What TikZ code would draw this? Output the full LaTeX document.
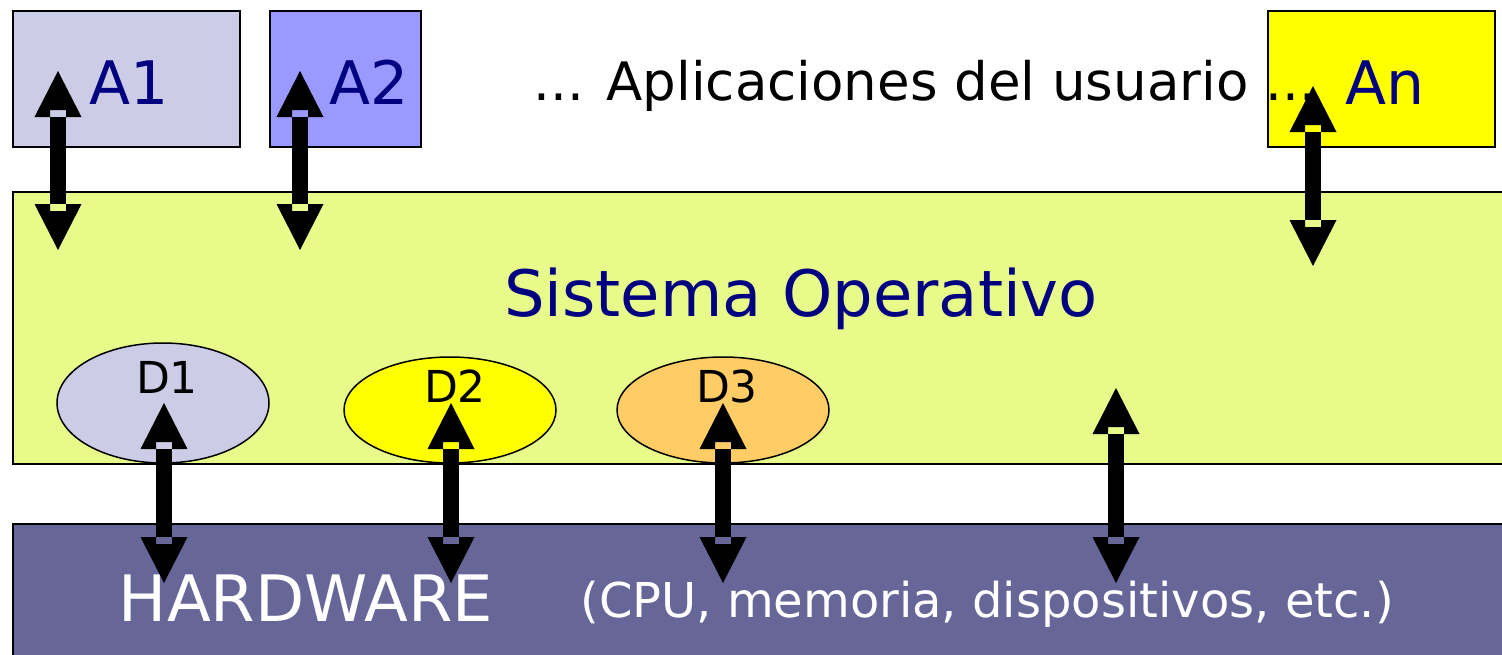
\documentclass[tikz,border=0pt]{standalone}
\usepackage{fontspec}
\setmainfont{DejaVu Sans}
\usetikzlibrary{shapes.geometric,calc}
\definecolor{lav}{RGB}{204,204,230}
\definecolor{bluebox}{RGB}{153,153,255}
\definecolor{osgreen}{RGB}{232,250,138}
\definecolor{navytext}{RGB}{0,0,128}
\definecolor{orangebox}{RGB}{255,204,102}
\definecolor{hwblue}{RGB}{102,102,153}
\definecolor{pureyellow}{RGB}{255,255,0}
\newcommand\dblarrow[2]{%
  \fill[black] (#1) -- ++(23.5,46) -- ++(-15.5,0) -- ++(0,-7) -- ++(-16,0) -- ++(0,7) -- ++(-15.5,0) -- cycle;
  \fill[black] (#2) -- ++(23.5,-46) -- ++(-15.5,0) -- ++(0,7) -- ++(-16,0) -- ++(0,-7) -- ++(-15.5,0) -- cycle;
  \fill[black] ($(#1)+(-8,46)$) rectangle ($(#2)+(8,-46)$);
}
\begin{document}
\begin{tikzpicture}[x=1pt,y=-1pt,
  box/.style={draw=black,line width=1.5pt,inner sep=0pt,anchor=north west},
  dev/.style={ellipse,draw=black,line width=1.5pt,inner sep=0pt,minimum width=212pt},
  apptext/.style={anchor=base,text=navytext,font=\fontsize{60}{60}\selectfont},
  devtext/.style={anchor=base,text=black,font=\fontsize{44}{44}\selectfont}]
\useasboundingbox (0,0) rectangle (1502,654);
% application boxes
\node[box,fill=lav,minimum width=227pt,minimum height=136pt] (A1) at (12,10) {};
\node[box,fill=bluebox,minimum width=151pt,minimum height=136pt] (A2) at (269,10) {};
\node[box,fill=pureyellow,minimum width=227pt,minimum height=136pt] (An) at (1267,10) {};
% OS and hardware layers
\node[box,fill=osgreen,minimum width=1510pt,minimum height=272pt] (OS) at (12,191) {};
\node[box,fill=hwblue,minimum width=1510pt,minimum height=140pt] (HW) at (12,523) {};
% devices
\node[dev,fill=lav,minimum height=120pt] (D1) at (163,403) {};
\node[dev,fill=pureyellow,minimum height=106pt] (D2) at (450,410) {};
\node[dev,fill=orangebox,minimum height=106pt] (D3) at (723,410) {};
% texts
\node[apptext] (A1t) at (129,104) {A1};
\node[apptext] (A2t) at (369,104) {A2};
\node[apptext] (Ant) at (1385,104) {An};
\node[anchor=base west,text=black,font=\fontsize{53}{53}\selectfont] (apps) at (530,100) {... Aplicaciones del usuario ...};
\node[anchor=base,text=navytext,font=\fontsize{64}{64}\selectfont] (OSt) at (801,316) {Sistema Operativo};
\node[devtext] (D1t) at (167,393) {D1};
\node[devtext] (D2t) at (455,402) {D2};
\node[devtext] (D3t) at (727,402) {D3};
\node[anchor=base,text=white,font=\fontsize{64}{64}\selectfont] (HWt) at (306,621) {HARDWARE};
\node[anchor=base,text=white,font=\fontsize{48}{48}\selectfont] (HWs) at (987,617) {(CPU, memoria, dispositivos, etc.)};
% arrow end points
\coordinate (a1top) at (58,71);   \coordinate (a1bot) at (58,250);
\coordinate (a2top) at (300,71);  \coordinate (a2bot) at (300,250);
\coordinate (antop) at (1313,86); \coordinate (anbot) at (1313,266);
\coordinate (d1top) at (164,403); \coordinate (d1bot) at (164,583);
\coordinate (d2top) at (451,403); \coordinate (d2bot) at (451,583);
\coordinate (d3top) at (723,403); \coordinate (d3bot) at (723,583);
\coordinate (ostop) at (1116,388); \coordinate (osbot) at (1116,583);
\dblarrow{a1top}{a1bot}
\dblarrow{a2top}{a2bot}
\dblarrow{antop}{anbot}
\dblarrow{d1top}{d1bot}
\dblarrow{d2top}{d2bot}
\dblarrow{d3top}{d3bot}
\dblarrow{ostop}{osbot}
\end{tikzpicture}
\end{document}
